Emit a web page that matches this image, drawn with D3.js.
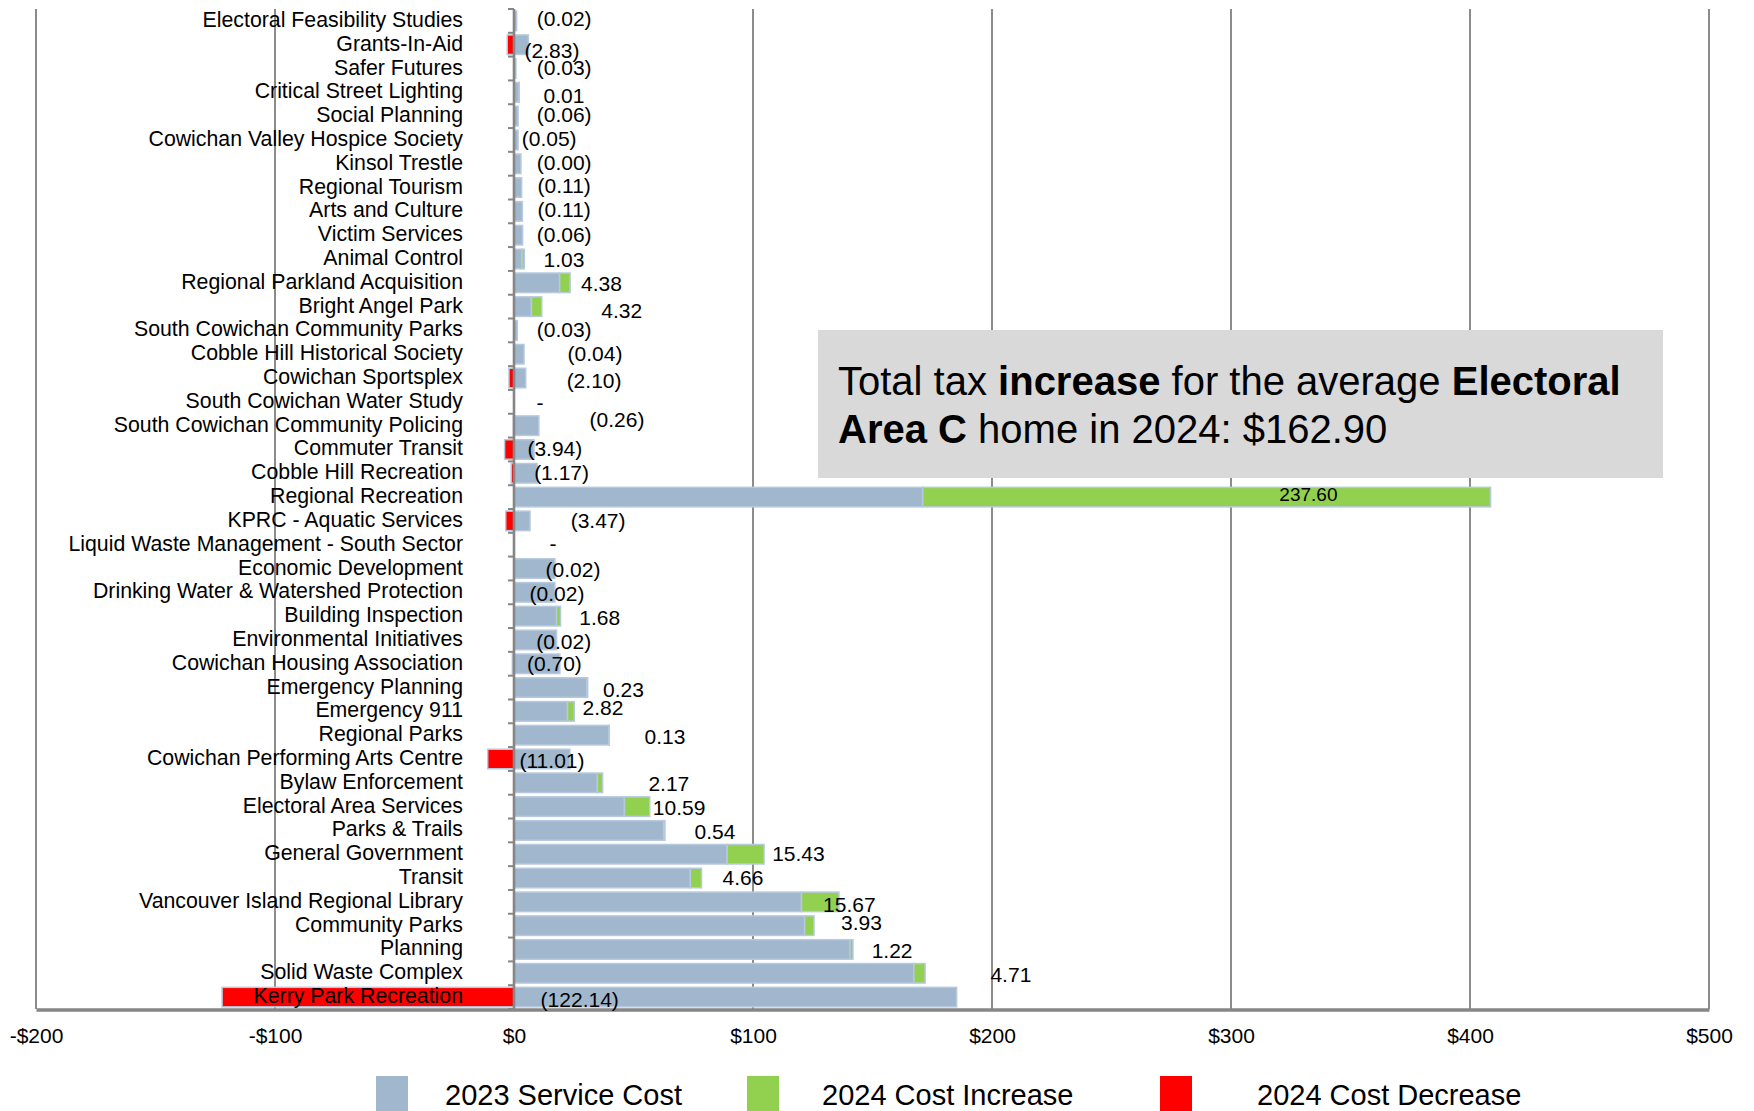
<!DOCTYPE html>
<html><head><meta charset="utf-8">
<script src="https://cdn.jsdelivr.net/npm/d3@7"></script>
<style>
body{margin:0;background:#fff}
svg{display:block}
text{font-family:"Liberation Sans",Arial,Helvetica,sans-serif;fill:#000}
</style>
</head><body>
<svg id="chart" width="1754" height="1111"></svg>
<script>
// ---------- DATA ----------
const categories = [
  "Electoral Feasibility Studies","Grants-In-Aid","Safer Futures","Critical Street Lighting",
  "Social Planning","Cowichan Valley Hospice Society","Kinsol Trestle","Regional Tourism",
  "Arts and Culture","Victim Services","Animal Control","Regional Parkland Acquisition",
  "Bright Angel Park","South Cowichan Community Parks","Cobble Hill Historical Society",
  "Cowichan Sportsplex","South Cowichan Water Study","South Cowichan Community Policing",
  "Commuter Transit","Cobble Hill Recreation","Regional Recreation","KPRC - Aquatic Services",
  "Liquid Waste Management - South Sector","Economic Development",
  "Drinking Water & Watershed Protection","Building Inspection","Environmental Initiatives",
  "Cowichan Housing Association","Emergency Planning","Emergency 911","Regional Parks",
  "Cowichan Performing Arts Centre","Bylaw Enforcement","Electoral Area Services",
  "Parks & Trails","General Government","Transit ","Vancouver Island Regional Library",
  "Community Parks","Planning","Solid Waste Complex","Kerry Park Recreation"
];
// 2023 service cost ($ per average home)
const cost2023 = [
  1.1, 6.0, 0.8, 2.2, 1.7, 1.7, 2.9, 3.2, 3.5, 3.6, 3.3, 19.1, 7.3, 1.4, 4.2, 4.9, 0, 10.4,
  8.4, 9.7, 171.0, 6.7, 0, 17.1, 17.1, 17.8, 17.8, 19.2, 30.6, 22.4, 39.7, 23.4, 34.9, 46.2,
  62.6, 89.2, 73.8, 120.3, 121.6, 140.6, 167.3, 185.2
];
// 2024 change (positive = increase, negative = decrease)
const change2024 = [
  -0.02, -2.83, -0.03, 0.01, -0.06, -0.05, 0.00, -0.11, -0.11, -0.06, 1.03, 4.38, 4.32, -0.03,
  -0.04, -2.10, 0, -0.26, -3.94, -1.17, 237.60, -3.47, 0, -0.02, -0.02, 1.68, -0.02, -0.70,
  0.23, 2.82, 0.13, -11.01, 2.17, 10.59, 0.54, 15.43, 4.66, 15.67, 3.93, 1.22, 4.71, -122.14
];
const changeLabels = [
  "(0.02)","(2.83)","(0.03)","0.01","(0.06)","(0.05)","(0.00)","(0.11)","(0.11)","(0.06)",
  "1.03","4.38","4.32","(0.03)","(0.04)","(2.10)","-","(0.26)","(3.94)","(1.17)","237.60",
  "(3.47)","-","(0.02)","(0.02)","1.68","(0.02)","(0.70)","0.23","2.82","0.13","(11.01)",
  "2.17","10.59","0.54","15.43","4.66","15.67","3.93","1.22","4.71","(122.14)"
];
// hidden label-carrier series: $ value at which each change label is centred
const labelAnchor = [
  21.0, 15.9, 21.0, 20.9, 21.0, 14.7, 21.0, 21.0, 21.0, 21.0, 20.9, 36.6, 45.1, 21.0, 33.9,
  33.5, 10.9, 43.1, 17.1, 19.9, 332.4, 35.2, 16.3, 24.7, 18.0, 35.9, 20.8, 16.9, 45.8, 37.2,
  63.2, 15.9, 64.8, 69.1, 84.1, 119.0, 95.8, 140.3, 145.4, 158.2, 207.9, 27.5
];
const xTicks = [-200, -100, 0, 100, 200, 300, 400, 500];
const seriesNames = ["2023 Service Cost", "2024 Cost Increase", "2024 Cost Decrease"];
const totalIncrease = "$162.90";

// ---------- LAYOUT (not data) ----------
// per-label vertical baseline offset from band centre, px
const labelBaseline = [
  5.3,13.5,6,10.9,6.1,6.2,5.8,5.3,5.5,6.5,7.9,8.1,11,6.2,6.7,9.9,7.9,1.7,6.9,6.7,4.1,7.4,6,
  8.1,9,9.2,9,6.9,9.4,3.6,9.2,9.4,8.2,8.3,8.9,6.7,7.2,10,4.2,8.8,8.3,10.2
];
const colors = {cost:"#a1b7cd", inc:"#92d050", dec:"#ff0000", edge:"#b6c9de", grid:"#8c8c8c", axis:"#868686"};

const svg = d3.select("#chart");
const x = d3.scaleLinear().domain([-200, 500]).range([36, 1709]);
const y = d3.scaleBand().domain(d3.range(categories.length)).range([9, 1009])
  .paddingInner(0.18).paddingOuter(0.09);

// stacked table built from arrays
const table = categories.map((c, i) => ({
  i,
  cost: cost2023[i],
  inc: Math.max(change2024[i], 0),
  dec: Math.min(change2024[i], 0)
}));
const stack = d3.stack().keys(["cost", "inc", "dec"]).offset(d3.stackOffsetDiverging);
const series = stack(table);
const fillFor = {cost: colors.cost, inc: colors.inc, dec: colors.dec};

// gridlines
svg.append("g").selectAll("line").data(xTicks.filter(t => t !== 0)).join("line")
  .attr("x1", d => x(d)).attr("x2", d => x(d))
  .attr("y1", 9).attr("y2", 1009)
  .attr("stroke", colors.grid).attr("stroke-width", 2);

// bars
svg.append("g").selectAll("g").data(series).join("g")
  .attr("fill", s => fillFor[s.key])
  .selectAll("rect").data(s => s.filter(d => d[1] !== d[0])).join("rect")
  .attr("x", d => x(Math.min(d[0], d[1])))
  .attr("width", d => Math.abs(x(d[1]) - x(d[0])))
  .attr("y", d => y(d.data.i))
  .attr("height", y.bandwidth())
  .attr("stroke", colors.edge).attr("stroke-width", 1.5);

// y axis line + ticks (category boundaries)
svg.append("line").attr("x1", x(0)).attr("x2", x(0)).attr("y1", 9).attr("y2", 1009)
  .attr("stroke", colors.axis).attr("stroke-width", 2.6);
const step = y.step();
svg.append("g").selectAll("line").data(d3.range(categories.length + 1)).join("line")
  .attr("x1", x(0) - 6).attr("x2", x(0))
  .attr("y1", i => 9 + i * step).attr("y2", i => 9 + i * step)
  .attr("stroke", colors.axis).attr("stroke-width", 2);

// x axis
const xAxis = d3.axisBottom(x).tickValues(xTicks).tickSize(0).tickPadding(0)
  .tickFormat(d => (d < 0 ? "-$" : "$") + Math.abs(d));
const gx = svg.append("g").attr("transform", "translate(0,1009.5)").call(xAxis);
gx.select(".domain").attr("stroke", colors.axis).attr("stroke-width", 3.5);
gx.selectAll("text").attr("font-size", 21).attr("font-family", "Liberation Sans, Arial, sans-serif")
  .attr("fill", "#000").attr("dy", null).attr("y", 33);

// category labels
svg.append("g").selectAll("text").data(categories).join("text")
  .attr("x", 463)
  .attr("y", (d, i) => y(i) + y.bandwidth() / 2 + 6)
  .attr("text-anchor", "end").attr("font-size", 21.3)
  .text(d => d);

// change labels
svg.append("g").selectAll("text").data(changeLabels).join("text")
  .attr("x", (d, i) => x(labelAnchor[i]))
  .attr("y", (d, i) => y(i) + y.bandwidth() / 2 + labelBaseline[i])
  .attr("text-anchor", "middle")
  .attr("font-size", (d, i) => change2024[i] > 100 ? 19 : 21)
  .text(d => d);

// annotation box
const ann = svg.append("g");
ann.append("rect").attr("x", 818).attr("y", 330).attr("width", 845).attr("height", 148).attr("fill", "#d9d9d9");
const t1 = ann.append("text").attr("x", 838).attr("y", 395).attr("font-size", 40);
t1.append("tspan").text("Total tax ");
t1.append("tspan").attr("font-weight", "bold").text("increase");
t1.append("tspan").text(" for the average ");
t1.append("tspan").attr("font-weight", "bold").text("Electoral");
const t2 = ann.append("text").attr("x", 838).attr("y", 443).attr("font-size", 40);
t2.append("tspan").attr("font-weight", "bold").text("Area C");
t2.append("tspan").text(" home in 2024: " + totalIncrease);

// legend
const legendX = [376, 747, 1160];
const legendFill = [colors.cost, colors.inc, colors.dec];
const lg = svg.append("g").selectAll("g").data(seriesNames).join("g")
  .attr("transform", (d, i) => `translate(${legendX[i]},1076)`);
lg.append("rect").attr("width", 32).attr("height", 40).attr("fill", (d, i) => legendFill[i]);
lg.append("text").attr("x", (d, i) => [69, 75, 97][i]).attr("y", 29).attr("font-size", 29).text(d => d);
</script>
</body></html>
